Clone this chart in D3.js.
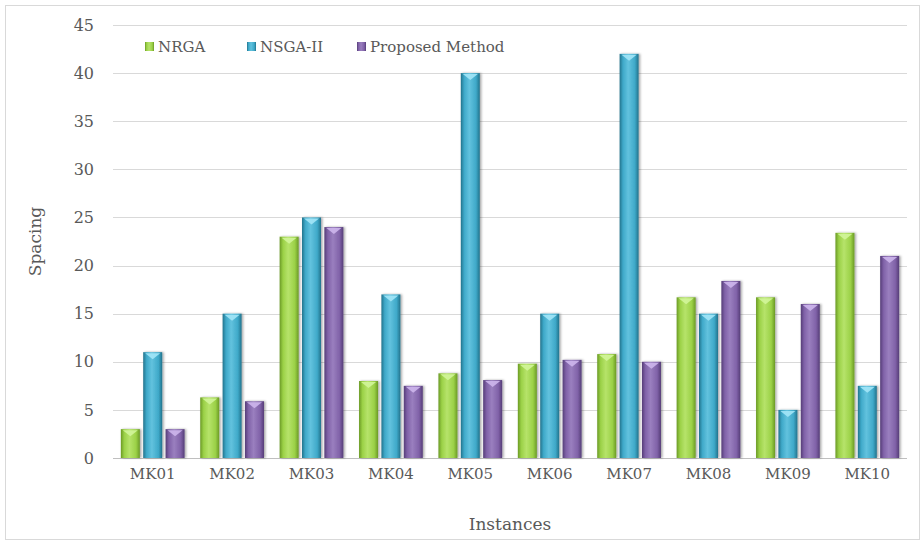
<!DOCTYPE html>
<html>
<head>
<meta charset="utf-8">
<script src="https://cdn.jsdelivr.net/npm/d3@7"></script>
<style>
  html, body { margin: 0; padding: 0; background: #fff; }
  svg { display: block; }
  text { font-family: "DejaVu Serif", "Liberation Serif", serif; fill: #595959; }
</style>
</head>
<body>
<svg id="chart" width="924" height="545"></svg>
<script>
// Instances and spacing results for each algorithm
const categories = ["MK01", "MK02", "MK03", "MK04", "MK05", "MK06", "MK07", "MK08", "MK09", "MK10"];
const seriesNames = ["NRGA", "NSGA-II", "Proposed Method"];
const nrga     = [3, 6.3, 23, 8, 8.8, 9.8, 10.8, 16.7, 16.7, 23.4];
const nsga2    = [11, 15, 25, 17, 40, 15, 42, 15, 5, 7.5];
const proposed = [3, 5.9, 24, 7.5, 8.1, 10.2, 10, 18.4, 16, 21];
const yTicks   = [0, 5, 10, 15, 20, 25, 30, 35, 40, 45];

const seriesValues = [nrga, nsga2, proposed];
const palette = [
  { mid: "#9bd147", light: "#b6e36a", dark: "#6b9a25", tip: "#d2f59a" },
  { mid: "#3fa9c9", light: "#62c2de", dark: "#22738c", tip: "#a3e6f7" },
  { mid: "#8062a8", light: "#9a7fbf", dark: "#553d77", tip: "#cdb6ec" }
];

const svg = d3.select("#chart");
const W = 924, H = 545;
const margin = { left: 113, right: 17, top: 25, bottom: 87 };
const plotW = W - margin.left - margin.right;
const plotH = H - margin.top - margin.bottom;

// outer chart frame
svg.append("rect").attr("x", 5.5).attr("y", 5.5).attr("width", 914).attr("height", 534)
  .attr("fill", "#fff").attr("stroke", "#d9d9d9");

const defs = svg.append("defs");
palette.forEach((c, i) => {
  const g = defs.append("linearGradient").attr("id", "bar" + i)
    .attr("x1", "0").attr("x2", "1").attr("y1", "0").attr("y2", "0");
  g.append("stop").attr("offset", "0%").attr("stop-color", c.dark);
  g.append("stop").attr("offset", "18%").attr("stop-color", c.mid);
  g.append("stop").attr("offset", "45%").attr("stop-color", c.light);
  g.append("stop").attr("offset", "80%").attr("stop-color", c.mid);
  g.append("stop").attr("offset", "100%").attr("stop-color", c.dark);
});
const shadow = defs.append("filter").attr("id", "shadow")
  .attr("x", "-30%").attr("y", "-10%").attr("width", "160%").attr("height", "120%");
shadow.append("feDropShadow").attr("dx", 1.5).attr("dy", 0).attr("stdDeviation", 1.2)
  .attr("flood-color", "#000").attr("flood-opacity", 0.35);

const y = d3.scaleLinear().domain([0, 45]).range([margin.top + plotH, margin.top]);
const x0 = d3.scaleBand().domain(categories).range([margin.left, margin.left + plotW]).paddingInner(0.0).paddingOuter(0);
const x1 = d3.scaleBand().domain(seriesNames).range([0, x0.bandwidth()]).paddingInner(0.15).paddingOuter(0.35);

// horizontal gridlines
svg.append("g").selectAll("line").data(yTicks).join("line")
  .attr("x1", margin.left).attr("x2", margin.left + plotW)
  .attr("y1", d => Math.round(y(d)) + 0.5).attr("y2", d => Math.round(y(d)) + 0.5)
  .attr("stroke", d => d === 0 ? "#bfbfbf" : "#d9d9d9").attr("stroke-width", 1);

// y axis labels
const yAxis = d3.axisLeft(y).tickValues(yTicks).tickSize(0).tickPadding(19);
const yg = svg.append("g").attr("transform", `translate(${margin.left},0)`).call(yAxis);
yg.select(".domain").remove();
yg.selectAll("text").attr("font-size", 16).attr("fill", "#595959")
  .style("font-family", "'DejaVu Serif', serif");

// x axis labels
const xAxis = d3.axisBottom(x0).tickSize(0).tickPadding(10);
const xg = svg.append("g").attr("transform", `translate(0,${margin.top + plotH})`).call(xAxis);
xg.select(".domain").remove();
xg.selectAll("text").attr("font-size", 15).attr("fill", "#595959")
  .style("font-family", "'DejaVu Serif', serif");

// bars
const groups = svg.append("g").selectAll("g").data(categories).join("g")
  .attr("transform", d => `translate(${x0(d)},0)`);

groups.each(function(cat, ci) {
  const g = d3.select(this);
  seriesNames.forEach((s, si) => {
    const v = seriesValues[si][ci];
    const bx = x1(s), bw = x1.bandwidth();
    const top = y(v), base = y(0);
    g.append("rect").attr("x", bx).attr("y", top).attr("width", bw).attr("height", base - top)
      .attr("fill", `url(#bar${si})`).attr("filter", "url(#shadow)");
    // bevelled top facet
    const th = Math.min(7, base - top);
    g.append("path")
      .attr("d", `M${bx + 2},${top + 1}L${bx + bw - 2},${top + 1}L${bx + bw / 2},${top + th}Z`)
      .attr("fill", palette[si].tip).attr("opacity", 0.9);
  });
});

// legend
const legendX = [145, 247, 357];
const lg = svg.append("g");
seriesNames.forEach((s, i) => {
  lg.append("rect").attr("x", legendX[i]).attr("y", 42).attr("width", 9).attr("height", 9)
    .attr("fill", `url(#bar${i})`);
  lg.append("text").attr("x", legendX[i] + 13).attr("y", 52)
    .attr("font-size", 15).text(s);
});

// axis titles
svg.append("text").attr("transform", `translate(41,${margin.top + plotH / 2}) rotate(-90)`)
  .attr("text-anchor", "middle").attr("font-size", 17).text("Spacing");
svg.append("text").attr("x", margin.left + plotW / 2).attr("y", 530)
  .attr("text-anchor", "middle").attr("font-size", 17).text("Instances");
</script>
</body>
</html>
